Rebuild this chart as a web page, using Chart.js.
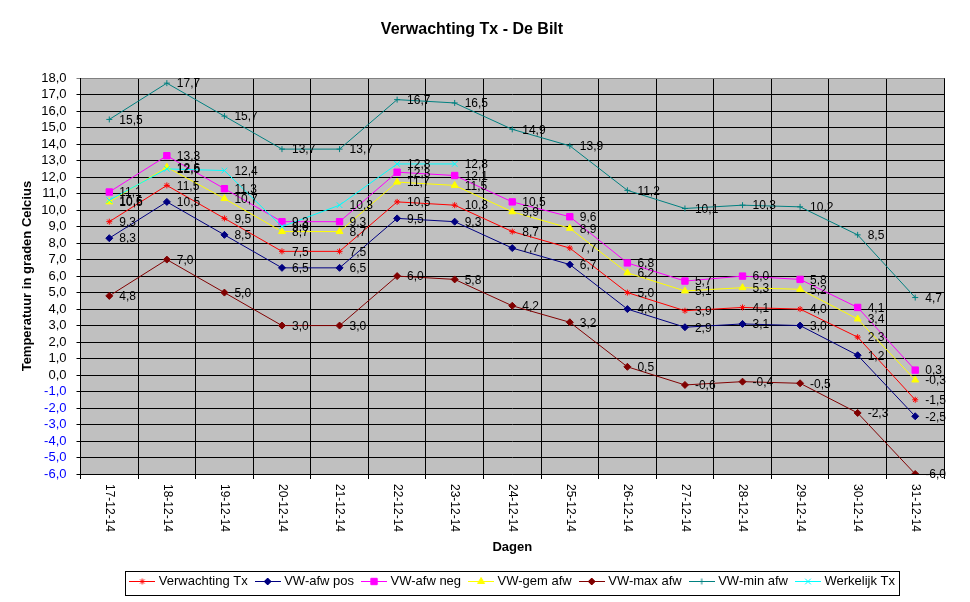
<!doctype html>
<html lang="nl">

<head>
    <meta charset="utf-8">
    <title>Verwachting Tx - De Bilt</title>
    <script src="https://cdn.jsdelivr.net/npm/chart.js"></script>
    <style>
        body { margin: 0; background: #fff; }
        #wrap { width: 970px; height: 602px; }
    </style>
</head>

<body>
    <div id="wrap"><canvas id="grafiek" width="970" height="602"></canvas></div>

    <script>
        // data
        const dagen = ['17-12-14', '18-12-14', '19-12-14', '20-12-14', '21-12-14', '22-12-14', '23-12-14', '24-12-14',
            '25-12-14', '26-12-14', '27-12-14', '28-12-14', '29-12-14', '30-12-14', '31-12-14'];
        const verwachtingTx = [9.3, 11.5, 9.5, 7.5, 7.5, 10.5, 10.3, 8.7, 7.7, 5.0, 3.9, 4.1, 4.0, 2.3, -1.5];
        const afwPos = [8.3, 10.5, 8.5, 6.5, 6.5, 9.5, 9.3, 7.7, 6.7, 4.0, 2.9, 3.1, 3.0, 1.2, -2.5];
        const afwNeg = [11.1, 13.3, 11.3, 9.3, 9.3, 12.3, 12.1, 10.5, 9.6, 6.8, 5.7, 6.0, 5.8, 4.1, 0.3];
        const gemAfw = [10.5, 12.6, 10.7, 8.7, 8.7, 11.7, 11.5, 9.9, 8.9, 6.2, 5.1, 5.3, 5.2, 3.4, -0.3];
        const maxAfw = [4.8, 7.0, 5.0, 3.0, 3.0, 6.0, 5.8, 4.2, 3.2, 0.5, -0.6, -0.4, -0.5, -2.3, -6.0];
        const minAfw = [15.5, 17.7, 15.7, 13.7, 13.7, 16.7, 16.5, 14.9, 13.9, 11.2, 10.1, 10.3, 10.2, 8.5, 4.7];
        const werkelijkTx = [10.6, 12.5, 12.4, 9.0, 10.3, 12.8, 12.8, null, null, null, null, null, null, null, null];

        const reeksNamen = ['Verwachting Tx', 'VW-afw pos', 'VW-afw neg', 'VW-gem afw', 'VW-max afw', 'VW-min afw', 'Werkelijk Tx'];
        const reeksData = [verwachtingTx, afwPos, afwNeg, gemAfw, maxAfw, minAfw, werkelijkTx];
        const kleuren = ['#ff0000', '#000080', '#ff00ff', '#ffff00', '#800000', '#008080', '#00ffff'];
        const markers = ['star', 'rectRot', 'rect', 'triangle', 'rectRot', 'cross', 'crossRot'];
        const markerMaat = [3, 3.5, 4.5, 4, 3.5, 3, 4];

        const fontNaam = '"Liberation Sans", Arial, sans-serif';
        Chart.defaults.font.family = fontNaam;

        function komma(v) {
            return Number(v).toFixed(1).replace('.', ',');
        }

        // lijntje met marker voor de legenda
        function legendaIcoon(kleur, stijl, maat) {
            const c = document.createElement('canvas');
            c.width = 26;
            c.height = 13;
            const g = c.getContext('2d');
            g.strokeStyle = kleur;
            g.fillStyle = kleur;
            g.lineWidth = 1;
            g.beginPath();
            g.moveTo(0, 6.5);
            g.lineTo(26, 6.5);
            g.stroke();
            Chart.helpers.drawPoint(g, { pointStyle: stijl, radius: maat, borderWidth: 1, rotation: 0 }, 13, 6.5);
            return c;
        }
        const iconen = reeksNamen.map((n, i) => legendaIcoon(kleuren[i], markers[i], markerMaat[i]));

        const datasets = reeksNamen.map((naam, i) => ({
            label: naam,
            data: reeksData[i],
            borderColor: kleuren[i],
            backgroundColor: kleuren[i],
            borderWidth: 1,
            tension: 0,
            fill: false,
            spanGaps: false,
            pointStyle: markers[i],
            pointRadius: markerMaat[i],
            pointHoverRadius: markerMaat[i],
            pointBorderWidth: 1,
            pointBackgroundColor: kleuren[i],
            pointBorderColor: kleuren[i],
            order: reeksNamen.length - i
        }));

        const achtergrond = {
            id: 'achtergrond',
            beforeDraw(chart) {
                const { ctx, chartArea: a } = chart;
                ctx.save();
                ctx.fillStyle = '#fff';
                ctx.fillRect(0, 0, chart.width, chart.height);
                ctx.fillStyle = '#c0c0c0';
                ctx.fillRect(a.left, a.top, a.right - a.left, a.bottom - a.top);
                ctx.restore();
            }
        };

        // legenda onder het plotvlak zetten zoals in excel
        const legendaPlek = {
            id: 'legendaPlek',
            afterLayout(chart) {
                const lg = chart.legend;
                if (!lg || !lg.lineWidths) return;
                const x0 = (lg.left + 10 + lg.right - lg.lineWidths[0]) / 2;
                const dx = 132.3 - x0;
                lg.left += dx;
                lg.right += dx;
            },
            afterDraw(chart) {
                const lg = chart.legend;
                const hb = lg.legendHitBoxes;
                if (!hb || !hb.length) return;
                const ctx = chart.ctx;
                const midden = lg.top + 10 + 6.5;
                const l = Math.round(hb[0].left - 7.3);
                const laatste = hb[hb.length - 1];
                const r = Math.round(laatste.left + laatste.width + 4);
                ctx.save();
                ctx.strokeStyle = '#000';
                ctx.lineWidth = 1;
                ctx.strokeRect(l + 0.5, Math.round(midden - 11) + 0.5, r - l, 24);
                ctx.restore();
            }
        };

        const waardeLabels = {
            id: 'waardeLabels',
            afterDatasetsDraw(chart) {
                const ctx = chart.ctx;
                ctx.save();
                ctx.font = '12px ' + fontNaam;
                ctx.fillStyle = '#000';
                ctx.textAlign = 'left';
                ctx.textBaseline = 'middle';
                chart.data.datasets.forEach((ds, i) => {
                    const meta = chart.getDatasetMeta(i);
                    meta.data.forEach((pt, j) => {
                        const v = ds.data[j];
                        if (v === null || v === undefined) return;
                        ctx.fillText(komma(v), pt.x + 10, pt.y + 1);
                    });
                });
                ctx.restore();
            }
        };

        // datums 90 graden gedraaid, van boven naar beneden
        const dagLabels = {
            id: 'dagLabels',
            afterDraw(chart) {
                const sc = chart.scales.x;
                const ctx = chart.ctx;
                ctx.save();
                ctx.font = '12px ' + fontNaam;
                ctx.fillStyle = '#000';
                ctx.textAlign = 'left';
                ctx.textBaseline = 'middle';
                dagen.forEach((d, i) => {
                    const x = sc.getPixelForValue(i);
                    ctx.save();
                    ctx.translate(x, sc.top + 10);
                    ctx.rotate(Math.PI / 2);
                    ctx.fillText(d, 0, 0);
                    ctx.restore();
                });
                ctx.restore();
            }
        };

        new Chart(document.getElementById('grafiek'), {
            type: 'line',
            data: { labels: dagen, datasets: datasets },
            options: {
                responsive: false,
                animation: false,
                layout: { padding: { left: 0, right: 26, top: 0, bottom: 4 } },
                plugins: {
                    title: {
                        display: true,
                        text: 'Verwachting Tx - De Bilt',
                        color: '#000',
                        font: { size: 16, weight: 'bold' },
                        padding: { top: 20, bottom: 39 }
                    },
                    legend: {
                        position: 'bottom',
                        labels: {
                            usePointStyle: true,
                            pointStyleWidth: 20,
                            padding: 10,
                            color: '#000',
                            font: { size: 13 },
                            generateLabels: chart => chart.data.datasets.map((ds, i) => ({
                                text: ds.label,
                                pointStyle: iconen[i],
                                fillStyle: kleuren[i],
                                strokeStyle: kleuren[i],
                                lineWidth: 0,
                                fontColor: '#000',
                                hidden: false,
                                datasetIndex: i
                            }))
                        }
                    },
                    tooltip: { enabled: false }
                },
                scales: {
                    x: {
                        offset: true,
                        grid: {
                            offset: true,
                            color: ctx => ctx.index === dagen.length ? '#808080' : '#000',
                            tickLength: 5
                        },
                        border: { color: '#000' },
                        ticks: { display: false },
                        title: {
                            display: true,
                            text: 'Dagen',
                            color: '#000',
                            font: { size: 13, weight: 'bold' },
                            padding: { top: 0, bottom: 10 }
                        },
                        afterFit: s => { s.height = 91; }
                    },
                    y: {
                        min: -6,
                        max: 18,
                        ticks: {
                            stepSize: 1,
                            autoSkip: false,
                            padding: 10,
                            font: { size: 13 },
                            color: ctx => ctx.tick && ctx.tick.value < 0 ? '#0000ff' : '#000',
                            callback: v => komma(v)
                        },
                        grid: {
                            color: ctx => ctx.tick && ctx.tick.value === 18 ? '#808080' : '#000',
                            tickLength: 4
                        },
                        border: { color: '#000' },
                        title: {
                            display: true,
                            text: 'Temperatuur in graden Celcius',
                            color: '#000',
                            font: { size: 13, weight: 'bold' },
                            padding: { top: 20, bottom: 0 }
                        },
                        afterFit: s => { s.width = 80.5; }
                    }
                }
            },
            plugins: [achtergrond, legendaPlek, waardeLabels, dagLabels]
        });
    </script>
</body>

</html>
